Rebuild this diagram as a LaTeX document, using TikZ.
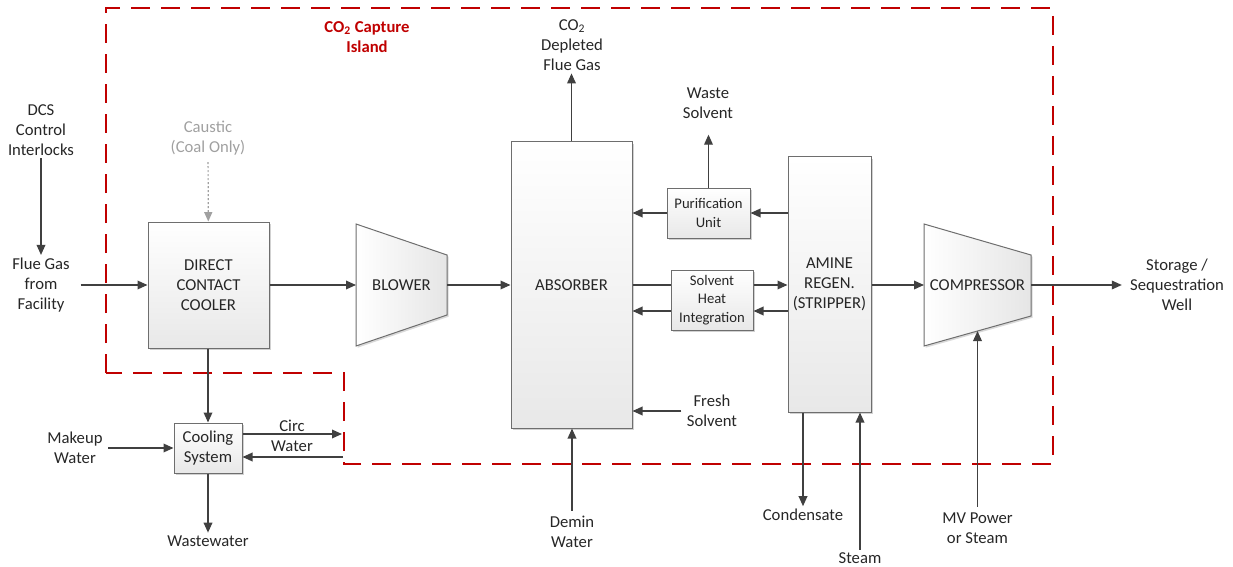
\documentclass[tikz,border=0pt]{standalone}
\usepackage{fontspec}
\setmainfont{Carlito}
\usetikzlibrary{arrows.meta,shadows,calc}
\definecolor{lnc}{HTML}{404040}
\definecolor{bdc}{HTML}{6E6E6E}
\definecolor{redc}{HTML}{C00000}
\definecolor{cgc}{HTML}{A0A0A0}
\definecolor{txc}{HTML}{262626}
\tikzset{
  lbl/.style={align=center, font=\fontsize{12.5}{15}\selectfont, text=txc, inner sep=2pt},
  smalltxt/.style={font=\fontsize{11}{13.8}\selectfont},
  box/.style={draw=bdc, line width=0.75pt, top color=white, bottom color=black!9,
    drop shadow={shadow xshift=1.3pt, shadow yshift=-1.3pt, fill=black, opacity=0.18},
    align=center, inner sep=0pt, font=\fontsize{12.5}{15}\selectfont, text=txc},
  trap/.style={draw=bdc, line width=0.75pt, left color=white, right color=black!10},
  trapshadow/.style={fill=black, opacity=0.15},
  arr/.style={draw=lnc, line width=1pt, -{Triangle[length=7.5pt,width=6.5pt]}},
  plain/.style={draw=lnc, line width=1pt},
  dotarr/.style={draw=cgc, line width=0.9pt, dash pattern=on 1.5pt off 1.5pt,
    -{Triangle[length=7pt,width=6pt]}},
  island/.style={draw=redc, line width=1.9pt, dash pattern=on 14.25pt off 8.25pt},
}
\begin{document}
\begin{tikzpicture}[x=0.75pt,y=-0.75pt]
\path[use as bounding box] (0,0) rectangle (1233,567);

% island boundary
\draw[island] (106,373) -- (106,8) -- (1053,8) -- (1053,464) -- (344,464) -- (344,373) -- cycle;
\node[lbl, font=\fontsize{12.5}{15}\selectfont\bfseries, text=redc] (title) at (367,37) {CO\textsubscript{2} Capture\\Island};

% boxes
\node[box, minimum width=90.75pt, minimum height=94.5pt] (dcc) at (208.5,285) {DIRECT\\CONTACT\\COOLER};
\node[box, minimum width=90.75pt, minimum height=214.5pt] (abs) at (571.5,285) {ABSORBER};
\node[box, smalltxt, minimum width=62.25pt, minimum height=37.5pt] (pur) at (708.5,213) {Purification\\Unit};
\node[box, smalltxt, minimum width=61.5pt, minimum height=45pt] (shi) at (712,300) {Solvent\\Heat\\Integration};
\node[box, minimum width=62.25pt, minimum height=191.25pt] (amine) at (829.5,284.5) {AMINE\\REGEN.\\(STRIPPER)};
\node[box, minimum width=51pt, minimum height=37.5pt] (cool) at (208,448) {Cooling\\System};

% blower
\fill[trapshadow] (357.7,225.7) -- (448.7,256.7) -- (448.7,316.7) -- (357.7,347.7) -- cycle;
\draw[trap] (356,224) -- (447,255) -- (447,315) -- (356,346) -- cycle;
\node[lbl] (blower) at (401.5,285) {BLOWER};
\coordinate (blin) at (356,285);
\coordinate (blout) at (447,285);

% compressor
\fill[trapshadow] (925.7,225.7) -- (1032.7,256.7) -- (1032.7,317.7) -- (925.7,347.7) -- cycle;
\draw[trap] (924,224) -- (1031,255) -- (1031,316) -- (924,346) -- cycle;
\node[lbl] (comp) at (977.5,285) {COMPRESSOR};
\coordinate (cpin) at (924,285);
\coordinate (cpout) at (1031,285);
\coordinate (cpbot) at (977.5,331);

% labels
\node[lbl] (dcs) at (41,130) {DCS\\Control\\Interlocks};
\node[lbl, inner xsep=8pt] (flue) at (41,285) {Flue Gas\\from\\Facility};
\node[lbl, text=cgc, inner sep=5pt] (caustic) at (208,138) {Caustic\\(Coal Only)};
\node[lbl] (co2) at (572,45) {CO\textsubscript{2}\\Depleted\\Flue Gas};
\node[lbl] (waste) at (708,103) {Waste\\Solvent};
\node[lbl, inner xsep=6pt] (store) at (1177,285) {Storage /\\Sequestration\\Well};
\node[lbl, inner xsep=4pt] (fresh) at (712,411) {Fresh\\Solvent};
\node[lbl, inner sep=4pt] (demin) at (572,532) {Demin\\Water};
\node[lbl] (cond) at (803,515) {Condensate};
\node[lbl] (steam) at (860,558) {Steam};
\node[lbl, inner sep=4pt] (mv) at (977.5,528) {MV Power\\or Steam};
\node[lbl, inner xsep=4pt] (makeup) at (75,448) {Makeup\\Water};
\node[lbl] (circ) at (292,436) {Circ\\Water};
\node[lbl] (wastew) at (208,541) {Wastewater};
\coordinate (circA) at (342,434);
\coordinate (circB) at (343,457);
\coordinate (row2) at (0,311);

% connectors
\draw[arr] (dcs) -- (flue);
\draw[arr] (flue.east) -- (dcc.west);
\draw[dotarr] (caustic) -- (dcc);
\draw[arr] (dcc.east) -- (blin);
\draw[arr] (blout) -- (abs.west);
\draw[arr] (abs.north) -- (abs.north |- co2.south);
\draw[arr, shorten >=10pt] (pur.north) -- (pur.north |- waste.south);
\draw[arr] (amine.west |- pur.east) -- (pur.east);
\draw[arr] (pur.west) -- (abs.east |- pur.west);
\draw[plain] (abs.east) -- (shi.west |- abs.east);
\draw[arr] (shi.east |- abs.east) -- (amine.west |- abs.east);
\draw[arr] (amine.west |- row2) -- (shi.east |- row2);
\draw[arr] (shi.west |- row2) -- (abs.east |- row2);
\draw[arr] (amine.east |- cpin) -- (cpin);
\draw[arr] (cpout) -- (store.west);
\draw[arr] (fresh.west) -- (abs.east |- fresh.west);
\draw[arr] (demin.north) -- (abs.south -| demin.north);
\draw[arr] (amine.south -| cond.north) -- (cond.north);
\draw[arr] (steam.north) -- (amine.south -| steam.north);
\draw[arr] (mv.north) -- (cpbot);
\draw[arr] (dcc.south -| cool.north) -- (cool.north);
\draw[arr] (makeup.east) -- (cool.west);
\draw[arr] (cool.east |- circA) -- (circA);
\draw[arr] (circB) -- (cool.east |- circB);
\draw[arr] (cool.south) -- (wastew.north);
\end{tikzpicture}
\end{document}
